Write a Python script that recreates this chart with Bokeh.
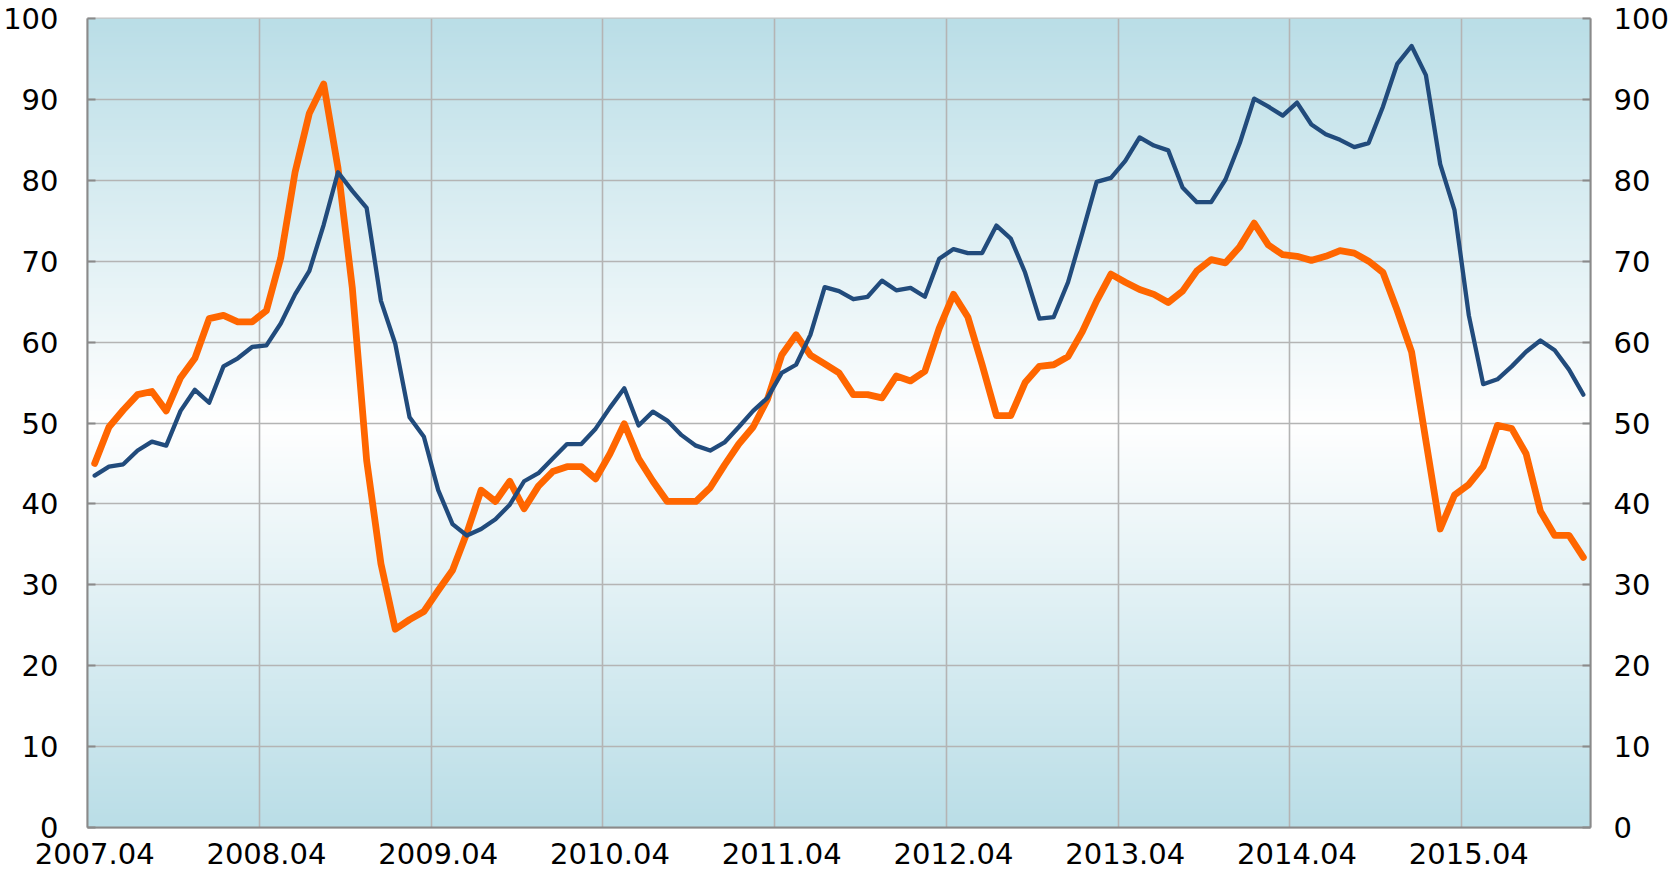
import numpy as np
from bokeh.plotting import figure
from bokeh.models import Range1d, LinearAxis, FixedTicker
from bokeh.embed import file_html
from bokeh.resources import INLINE

# ---- data -------------------------------------------------------------
# monthly categories 2007.04 ... 2015.12
months = []
_y, _m = 2007, 4
for _ in range(105):
    months.append(f"{_y}.{_m:02d}")
    _m += 1
    if _m > 12:
        _m, _y = 1, _y + 1

tick_labels = ["2007.04", "2008.04", "2009.04", "2010.04", "2011.04",
               "2012.04", "2013.04", "2014.04", "2015.04"]
y_ticks = [0, 10, 20, 30, 40, 50, 60, 70, 80, 90, 100]

series_orange = [45.0, 49.5, 51.6, 53.5, 53.9, 51.5, 55.6, 58.0, 62.9, 63.3,
                 62.5, 62.5, 63.9, 70.4, 81.0, 88.3, 91.9, 81.5, 66.7, 45.4,
                 32.6, 24.5, 25.7, 26.7, 29.3, 31.8, 36.4, 41.7, 40.3, 42.8,
                 39.4, 42.2, 44.0, 44.6, 44.6, 43.1, 46.2, 49.9, 45.6, 42.8,
                 40.3, 40.3, 40.3, 42.0, 44.8, 47.4, 49.5, 52.9, 58.4, 60.9,
                 58.4, 57.3, 56.2, 53.5, 53.5, 53.1, 55.8, 55.2, 56.4, 61.7,
                 65.9, 63.1, 57.2, 50.9, 50.9, 55.0, 57.0, 57.2, 58.2, 61.3,
                 65.1, 68.4, 67.4, 66.5, 65.9, 64.9, 66.3, 68.8, 70.2, 69.8,
                 71.8, 74.7, 72.0, 70.8, 70.6, 70.1, 70.6, 71.3, 71.0, 70.0,
                 68.6, 63.9, 58.8, 47.8, 36.9, 41.1, 42.4, 44.6, 49.7, 49.3,
                 46.2, 39.1, 36.1, 36.1, 33.4]

series_blue = [43.5, 44.6, 44.9, 46.6, 47.7, 47.2, 51.5, 54.1, 52.5, 57.0,
               58.0, 59.4, 59.6, 62.3, 65.9, 68.8, 74.5, 81.0, 78.7, 76.6,
               65.1, 59.8, 50.7, 48.3, 41.7, 37.5, 36.1, 36.9, 38.1, 39.9,
               42.8, 43.8, 45.6, 47.4, 47.4, 49.3, 51.9, 54.3, 49.7, 51.4,
               50.3, 48.5, 47.2, 46.6, 47.6, 49.5, 51.5, 53.1, 56.2, 57.2,
               60.9, 66.8, 66.3, 65.3, 65.6, 67.6, 66.4, 66.7, 65.6, 70.3,
               71.5, 71.0, 71.0, 74.4, 72.8, 68.6, 62.9, 63.1, 67.4, 73.5,
               79.8, 80.3, 82.4, 85.3, 84.3, 83.7, 79.1, 77.3, 77.3, 80.1,
               84.6, 90.1, 89.1, 88.0, 89.6, 86.9, 85.7, 85.0, 84.1, 84.6,
               89.1, 94.4, 96.6, 93.0, 82.0, 76.3, 63.3, 54.8, 55.4, 57.0,
               58.8, 60.2, 59.0, 56.6, 53.5]

# ---- figure -----------------------------------------------------------
n = len(months)
x = list(range(n))
label_pos = [months.index(t) for t in tick_labels]
grid_pos = [p - 0.5 for p in label_pos]

FONT = "DejaVu Sans"
FS = "29px"

p = figure(width=1675, height=878, output_backend="svg", toolbar_location=None,
           x_range=Range1d(-0.5, n - 0.5), y_range=Range1d(0, 100),
           min_border_left=85, min_border_right=85, min_border_top=18,
           min_border_bottom=51)
p.background_fill_color = "white"
p.border_fill_color = "white"
p.outline_line_color = "#c4c4c4"
p.outline_line_width = 2

# vertical gradient background (blue - white - blue)
rows = 400
edge = np.array([186, 222, 231], dtype=float)
white = np.array([255, 255, 255], dtype=float)
tt = np.abs(np.linspace(0, 1, rows) - 0.5) * 2
cols = white[None, :] * (1 - tt[:, None]) + edge[None, :] * tt[:, None]
img = np.zeros((rows, 1), dtype=np.uint32)
view = img.view(dtype=np.uint8).reshape((rows, 1, 4))
view[:, 0, 0] = cols[:, 0].astype(np.uint8)
view[:, 0, 1] = cols[:, 1].astype(np.uint8)
view[:, 0, 2] = cols[:, 2].astype(np.uint8)
view[:, 0, 3] = 255
p.image_rgba(image=[img], x=-0.5, y=0, dw=n, dh=100, level="image")

# grids
p.xgrid.ticker = FixedTicker(ticks=grid_pos)
p.ygrid.ticker = FixedTicker(ticks=y_ticks)
for g in (p.xgrid, p.ygrid):
    g.grid_line_color = "#b4b4b4"
    g.grid_line_width = 1.6

# bottom axis
xa = p.xaxis[0]
xa.ticker = FixedTicker(ticks=label_pos)
xa.major_label_overrides = {pos: lab for pos, lab in zip(label_pos, tick_labels)}
xa.major_tick_in = 0
xa.major_tick_out = 0
xa.minor_tick_line_color = None
xa.axis_line_color = "#8a8a8a"
xa.axis_line_width = 2
xa.major_label_standoff = 15
xa.major_label_text_font = FONT
xa.major_label_text_font_size = FS
xa.major_label_text_color = "black"

# left + right axes
ya = p.yaxis[0]
yb = LinearAxis()
p.add_layout(yb, "right")
for ax, so in ((ya, 29), (yb, 23)):
    ax.ticker = FixedTicker(ticks=y_ticks)
    ax.major_tick_in = 8
    ax.major_tick_out = 0
    ax.major_tick_line_color = "#8a8a8a"
    ax.major_tick_line_width = 2
    ax.minor_tick_line_color = None
    ax.axis_line_color = "#8a8a8a"
    ax.axis_line_width = 2
    ax.major_label_standoff = so
    ax.major_label_text_font = FONT
    ax.major_label_text_font_size = FS
    ax.major_label_text_color = "black"

# series
p.line(x, series_orange, line_color="#ff6600", line_width=6.8,
       line_join="round", line_cap="round")
p.line(x, series_blue, line_color="#214b7c", line_width=4.3,
       line_join="round", line_cap="round")

open("out.html", "w").write(file_html(p, INLINE))
